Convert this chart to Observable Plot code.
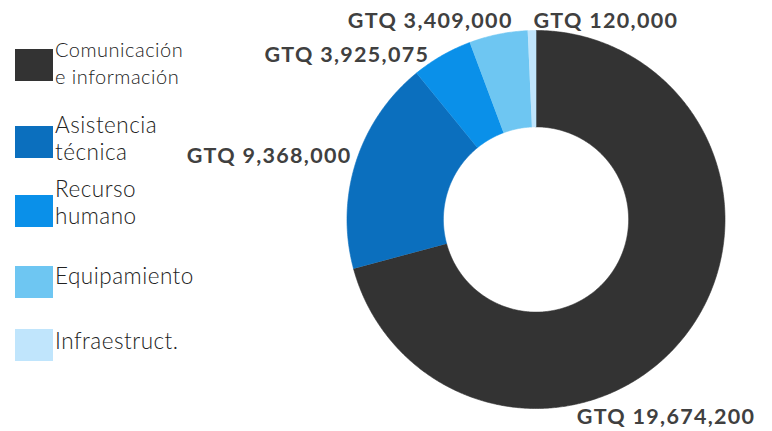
<!DOCTYPE html>
<html><head><meta charset="utf-8">
<script src="https://cdn.jsdelivr.net/npm/d3@7"></script>
<script src="https://cdn.jsdelivr.net/npm/@observablehq/plot@0.6"></script>
<style>
body{margin:0;background:#fff;}
#wrap{position:relative;width:772px;height:431px;overflow:hidden;}
#wrap svg{position:absolute;left:0;top:0;}
#wrap svg text{letter-spacing:1.3px;}
.sw{position:absolute;left:15px;width:38px;height:32px;}
.lbl{position:absolute;left:55px;font-family:Lato,"Open Sans",sans-serif;font-weight:300;color:#222;font-size:22.5px;line-height:27px;letter-spacing:0.5px;white-space:nowrap;}
</style></head><body><div id="wrap"></div>
<script>
// ---- data ----
const categories = ["Comunicación e información", "Asistencia técnica", "Recurso humano", "Equipamiento", "Infraestruct."];
const legendLines = [["Comunicación", "e información"], ["Asistencia", "técnica"], ["Recurso", "humano"], ["Equipamiento"], ["Infraestruct."]];
const amounts = [19674200, 9368000, 3925075, 3409000, 120000];
// slice shares (%) as drawn in the picture
const sliceShares = [70.8, 18.3, 5.2, 5.0, 0.7];
const colors = ["#333333", "#0b6fbe", "#0a90e9", "#6ec6f2", "#c0e5fc"];

// ---- layout / style ----
const innerRatio = 0.49;
const labelOffsets = [[-20, 83], [-87, -6], [-95, -1], [-68, -13], [74, -9]];
const swatchTops = [49, 126, 195, 266, 329];
const textTops = [35.8, 110.5, 174.5, 261.8, 326.8];
const textSizes = [20, 22.5, 22.5, 22.5, 22.5];

// build slice polygons
const total = d3.sum(sliceShares);
const poly = [];
const labels = [];
let acc = 0;
categories.forEach((cat, i) => {
  const a0 = acc / total * 2 * Math.PI;
  acc += sliceShares[i];
  const a1 = acc / total * 2 * Math.PI;
  const n = Math.max(4, Math.ceil((a1 - a0) / (Math.PI / 360)));
  for (let k = 0; k <= n; k++) {
    const t = a0 + (a1 - a0) * k / n;
    poly.push({cat, x: Math.sin(t), y: Math.cos(t)});
  }
  for (let k = n; k >= 0; k--) {
    const t = a0 + (a1 - a0) * k / n;
    poly.push({cat, x: innerRatio * Math.sin(t), y: innerRatio * Math.cos(t)});
  }
  const m = (a0 + a1) / 2;
  labels.push({cat, i, x: Math.sin(m), y: Math.cos(m), text: "GTQ " + d3.format(",")(amounts[i])});
});

const cx = 535.5, cy = 219, R = 189;
const plot = Plot.plot({
  width: 772,
  height: 431,
  margin: 0,
  x: {domain: [-1, 1], range: [cx - R, cx + R], axis: null},
  y: {domain: [-1, 1], range: [cy + R, cy - R], axis: null},
  color: {domain: categories, range: colors},
  marks: [
    Plot.line(poly, {x: "x", y: "y", z: "cat", fill: "cat", stroke: "cat", strokeWidth: 0.6, curve: "linear"}),
    ...labels.map(l => Plot.text([l], {
      x: "x", y: "y", text: "text",
      dx: labelOffsets[l.i][0], dy: labelOffsets[l.i][1],
      textAnchor: "middle", lineAnchor: "middle",
      fontFamily: "Lato, 'Open Sans', sans-serif", fontWeight: "bold", fontSize: 21.5, fill: "#404040"
    }))
  ]
});
const wrap = document.getElementById("wrap");
wrap.appendChild(plot);

categories.forEach((cat, i) => {
  const sw = document.createElement("div");
  sw.className = "sw";
  sw.style.top = swatchTops[i] + "px";
  sw.style.background = colors[i];
  wrap.appendChild(sw);
  const t = document.createElement("div");
  t.className = "lbl";
  t.style.top = textTops[i] + "px";
  t.style.fontSize = textSizes[i] + "px";
  t.innerHTML = legendLines[i].join("<br>");
  wrap.appendChild(t);
});
</script></body></html>
